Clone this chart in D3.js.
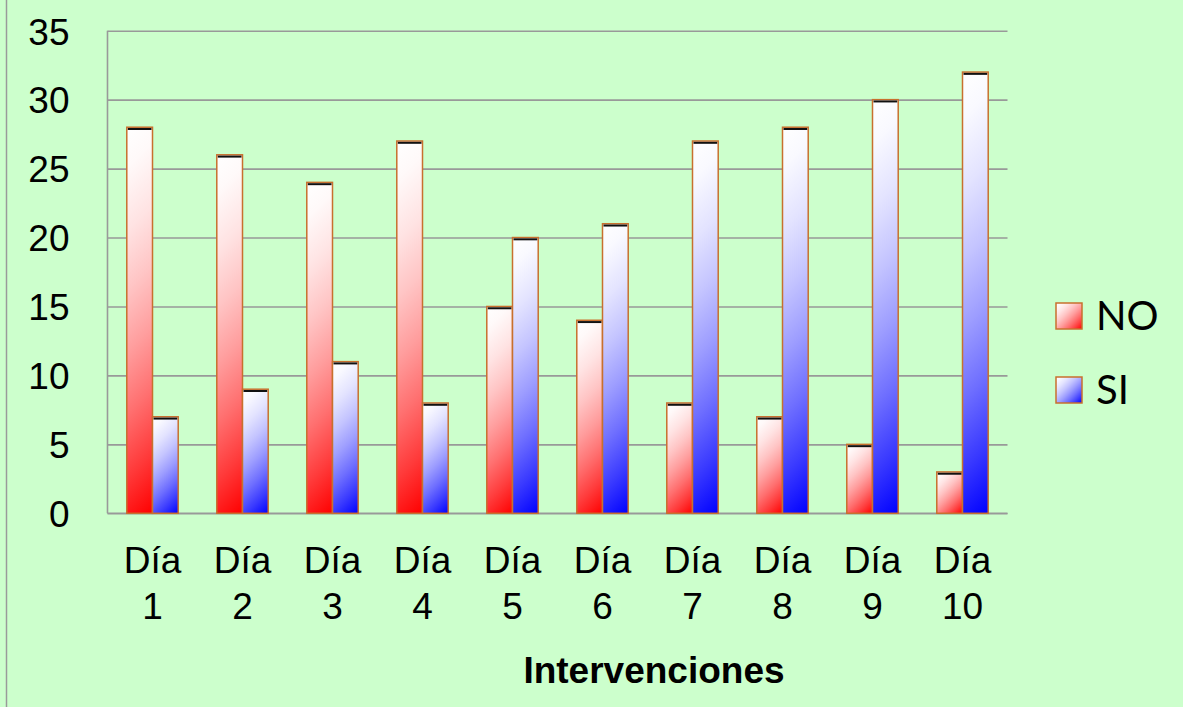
<!DOCTYPE html>
<html>
<head>
<meta charset="utf-8">
<script src="https://cdn.jsdelivr.net/npm/d3@7/dist/d3.min.js"></script>
<style>
  html, body { margin: 0; padding: 0; background: #CCFFCC; }
  svg { display: block; }
  .tick text { font-family: "Liberation Sans", Arial, sans-serif; }
</style>
</head>
<body>
<div id="chart"></div>
<script>
// data
var categories = ["Día 1", "Día 2", "Día 3", "Día 4", "Día 5", "Día 6", "Día 7", "Día 8", "Día 9", "Día 10"];
var series = ["NO", "SI"];
var noValues = [28, 26, 24, 27, 15, 14, 8, 7, 5, 3];
var siValues = [7, 9, 11, 8, 20, 21, 27, 28, 30, 32];
var yTicks = [0, 5, 10, 15, 20, 25, 30, 35];
var seriesColors = ["#FF0000", "#0000FF"];

var width = 1183, height = 707;
var plot = {left: 107.5, right: 1007.5, top: 30.7, bottom: 513.3};

var svg = d3.select("#chart").append("svg")
  .attr("width", width)
  .attr("height", height);

svg.append("rect")
  .attr("width", width).attr("height", height)
  .attr("fill", "#CCFFCC");

// chart area border (only left edge falls inside the picture)
svg.append("rect")
  .attr("x", 6.5).attr("y", -10)
  .attr("width", 1400).attr("height", 900)
  .attr("fill", "none")
  .attr("stroke", "#9a9a9a")
  .attr("stroke-width", 1.5);

var x = d3.scaleBand()
  .domain(categories)
  .range([plot.left, plot.right])
  .padding(0);

var xs = d3.scaleBand()
  .domain(series)
  .range([0, x.bandwidth()])
  .paddingInner(0)
  .paddingOuter(0.75);

var y = d3.scaleLinear()
  .domain([0, 35])
  .range([plot.bottom, plot.top]);

// gridlines
svg.append("g")
  .attr("transform", "translate(" + plot.left + ",0)")
  .call(d3.axisLeft(y).tickValues(yTicks).tickSize(-(plot.right - plot.left)).tickFormat(""))
  .call(function (g) {
    g.select(".domain").remove();
    g.selectAll("line").attr("stroke", "#999999").attr("stroke-width", 1.6);
  });

// y axis labels
svg.append("g")
  .attr("transform", "translate(" + plot.left + ",0)")
  .call(d3.axisLeft(y).tickValues(yTicks).tickSize(0).tickPadding(38))
  .call(function (g) {
    g.select(".domain").remove();
    g.selectAll("text")
      .attr("font-size", 37)
      .attr("fill", "#000")
      .attr("dy", "0.36em");
  });

// axis lines
svg.append("line")
  .attr("x1", plot.left).attr("x2", plot.left)
  .attr("y1", plot.top).attr("y2", plot.bottom)
  .attr("stroke", "#999999").attr("stroke-width", 1.6);
svg.append("line")
  .attr("x1", plot.left).attr("x2", plot.right)
  .attr("y1", plot.bottom).attr("y2", plot.bottom)
  .attr("stroke", "#999999").attr("stroke-width", 1.6);

// bar data
var bars = [];
categories.forEach(function (c, i) {
  bars.push({cat: c, s: "NO", v: noValues[i], color: seriesColors[0]});
  bars.push({cat: c, s: "SI", v: siValues[i], color: seriesColors[1]});
});

var defs = svg.append("defs");

// corner gradient: white at top-left, full colour at bottom-right
function addGradient(id, x0, y0, w, h, color) {
  var k = (w + h) / 2;
  var g = defs.append("linearGradient")
    .attr("id", id)
    .attr("gradientUnits", "userSpaceOnUse")
    .attr("x1", x0).attr("y1", y0)
    .attr("x2", x0 + k).attr("y2", y0 + k);
  var mix = d3.interpolateRgb("#FFFFFF", color);
  [0, 0.1, 0.25, 0.4, 0.55, 0.7, 0.85, 1].forEach(function (t) {
    g.append("stop")
      .attr("offset", t)
      .attr("stop-color", mix(Math.pow(t, 1.6)));
  });
}

bars.forEach(function (d, i) {
  d.x = x(d.cat) + xs(d.s);
  d.w = xs.bandwidth();
  d.y = y(d.v);
  d.h = plot.bottom - d.y;
  d.id = "grad" + i;
  addGradient(d.id, d.x, d.y, d.w, d.h, d.color);
});

var barG = svg.selectAll(".bar")
  .data(bars)
  .enter().append("g")
  .attr("class", "bar");

barG.append("rect")
  .attr("x", function (d) { return d.x; })
  .attr("y", function (d) { return d.y; })
  .attr("width", function (d) { return d.w; })
  .attr("height", function (d) { return d.h; })
  .attr("fill", function (d) { return "url(#" + d.id + ")"; })
  .attr("stroke", "#C8702E")
  .attr("stroke-width", 1.5);

// dark top edge
barG.append("line")
  .attr("x1", function (d) { return d.x + 1; })
  .attr("x2", function (d) { return d.x + d.w - 1; })
  .attr("y1", function (d) { return d.y + 1.8; })
  .attr("y2", function (d) { return d.y + 1.8; })
  .attr("stroke", "#111")
  .attr("stroke-width", 2);

// x labels
var xl = svg.selectAll(".xlabel")
  .data(categories)
  .enter().append("text")
  .attr("class", "xlabel")
  .attr("text-anchor", "middle")
  .attr("font-family", "'Liberation Sans', Arial, sans-serif")
  .attr("font-size", 37)
  .attr("fill", "#000");

xl.append("tspan")
  .attr("x", function (d) { return x(d) + x.bandwidth() / 2; })
  .attr("y", 573)
  .text(function (d) { return d.split(" ")[0]; });
xl.append("tspan")
  .attr("x", function (d) { return x(d) + x.bandwidth() / 2; })
  .attr("y", 619)
  .text(function (d) { return d.split(" ")[1]; });

// axis title
svg.append("text")
  .attr("x", 654)
  .attr("y", 682.5)
  .attr("text-anchor", "middle")
  .attr("font-family", "'Liberation Sans', Arial, sans-serif")
  .attr("font-weight", "bold")
  .attr("font-size", 37)
  .text("Intervenciones");

// legend
var legend = svg.selectAll(".legend")
  .data(series)
  .enter().append("g")
  .attr("class", "legend")
  .attr("transform", function (d, i) { return "translate(1056," + (303 + i * 74) + ")"; });

series.forEach(function (s, i) {
  addGradient("lgrad" + i, 0, 0, 26, 26, seriesColors[i]);
});

legend.append("rect")
  .attr("width", 26)
  .attr("height", 26)
  .attr("fill", function (d, i) { return "url(#lgrad" + i + ")"; })
  .attr("stroke", "#C8702E")
  .attr("stroke-width", 1.5);

legend.append("text")
  .attr("x", 40)
  .attr("y", 13)
  .attr("dy", "0.36em")
  .attr("font-family", "Lato, 'Open Sans', sans-serif")
  .attr("font-size", 40)
  .text(function (d) { return d; });
</script>
</body>
</html>
